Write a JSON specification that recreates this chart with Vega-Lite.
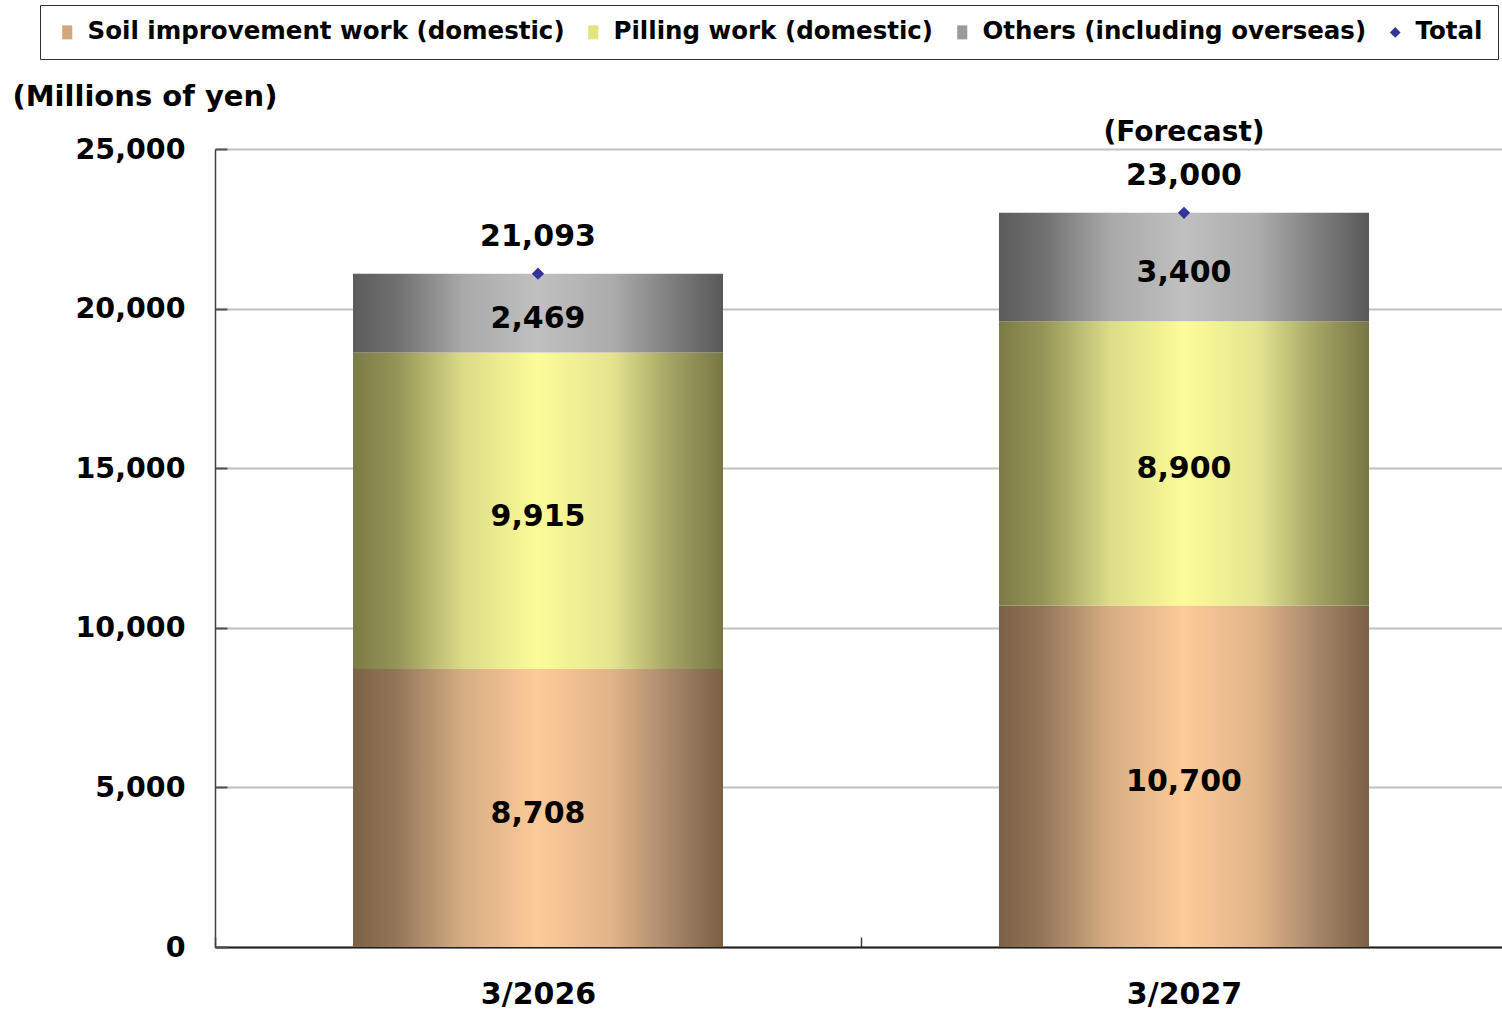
{
  "$schema": "https://vega.github.io/schema/vega-lite/v6.json",
  "autosize": {"type": "none"},
  "padding": {"left": 215, "top": 149, "right": 0, "bottom": 63},
  "width": 1287,
  "height": 798,
  "background": "white",
  "config": {
    "view": {"stroke": null},
    "font": "DejaVu Sans",
    "text": {"font": "DejaVu Sans", "fontWeight": "bold"}
  },
  "datasets": {
    "parts": [
      {"period": "3/2026", "series": "Soil improvement work (domestic)", "order": 1, "value": 8708},
      {"period": "3/2026", "series": "Pilling work (domestic)", "order": 2, "value": 9915},
      {"period": "3/2026", "series": "Others (including overseas)", "order": 3, "value": 2469},
      {"period": "3/2027", "series": "Soil improvement work (domestic)", "order": 1, "value": 10700},
      {"period": "3/2027", "series": "Pilling work (domestic)", "order": 2, "value": 8900},
      {"period": "3/2027", "series": "Others (including overseas)", "order": 3, "value": 3400}
    ],
    "totals": [
      {"period": "3/2026", "total": 21093, "note": ""},
      {"period": "3/2027", "total": 23000, "note": "(Forecast)"}
    ],
    "legendItems": [
      {"series": "Soil improvement work (domestic)"},
      {"series": "Pilling work (domestic)"},
      {"series": "Others (including overseas)"},
      {"series": "Total"}
    ]
  },
  "encoding": {
    "x": {
      "field": "period",
      "type": "nominal",
      "sort": ["3/2026", "3/2027"],
      "scale": {"paddingInner": 0, "paddingOuter": 0, "range": [0, 1292]},
      "axis": {
        "title": null,
        "labelAngle": 0,
        "labelFont": "DejaVu Sans",
        "labelFontWeight": "bold",
        "labelFontSize": 30,
        "labelColor": "black",
        "labelPadding": 42,
        "tickBand": "extent",
        "tickSize": -10,
        "tickColor": "#404040",
        "tickWidth": 1.5,
        "domainColor": "#202020",
        "domainWidth": 2,
        "grid": false
      }
    }
  },
  "layer": [
    {
      "data": {"name": "parts"},
      "transform": [
        {"stack": "value", "groupby": ["period"], "sort": [{"field": "order", "order": "ascending"}], "as": ["y0", "y1"]},
        {"calculate": "(datum.y0 + datum.y1) / 2", "as": "mid"}
      ],
      "layer": [
        {
          "transform": [{"filter": "datum.order == 1"}],
          "mark": {
            "type": "bar",
            "width": 370,
            "color": {
              "gradient": "linear", "x1": 0, "y1": 0, "x2": 1, "y2": 0,
              "stops": [
                {"offset": 0, "color": "#7B6146"},
                {"offset": 0.12, "color": "#94775A"},
                {"offset": 0.3, "color": "#D6AE84"},
                {"offset": 0.5, "color": "#FDCA98"},
                {"offset": 0.7, "color": "#E0B488"},
                {"offset": 0.86, "color": "#A6866A"},
                {"offset": 1, "color": "#7A6045"}
              ]
            }
          },
          "encoding": {
            "y": {
              "field": "y0", "type": "quantitative",
              "scale": {"domain": [0, 25000], "nice": false},
              "axis": {
                "title": "(Millions of yen)",
                "titleAngle": 0,
                "titleAlign": "left",
                "titleBaseline": "middle",
                "titleX": -203,
                "titleY": -53,
                "titleFont": "DejaVu Sans",
                "titleFontWeight": "bold",
                "titleFontSize": 29,
                "titleColor": "black",
                "values": [0, 5000, 10000, 15000, 20000, 25000],
                "format": ",d",
                "labelFont": "DejaVu Sans",
                "labelFontWeight": "bold",
                "labelFontSize": 28.5,
                "labelColor": "black",
                "labelPadding": 42,
                "labelBaseline": "middle",
                "tickSize": -12,
                "tickColor": "#505050",
                "tickWidth": 2,
                "domainColor": "#404040",
                "domainWidth": 1.5,
                "grid": true,
                "gridColor": "#C0C0C0",
                "gridWidth": 2
              }
            },
            "y2": {"field": "y1"}
          }
        },
        {
          "transform": [{"filter": "datum.order == 2"}],
          "mark": {
            "type": "bar",
            "width": 370,
            "color": {
              "gradient": "linear", "x1": 0, "y1": 0, "x2": 1, "y2": 0,
              "stops": [
                {"offset": 0, "color": "#7B7B46"},
                {"offset": 0.12, "color": "#959558"},
                {"offset": 0.3, "color": "#DCDC89"},
                {"offset": 0.5, "color": "#FCFC98"},
                {"offset": 0.7, "color": "#E4E490"},
                {"offset": 0.86, "color": "#A3A363"},
                {"offset": 1, "color": "#777744"}
              ]
            }
          },
          "encoding": {"y": {"field": "y0", "type": "quantitative"}, "y2": {"field": "y1"}}
        },
        {
          "transform": [{"filter": "datum.order == 3"}],
          "mark": {
            "type": "bar",
            "width": 370,
            "color": {
              "gradient": "linear", "x1": 0, "y1": 0, "x2": 1, "y2": 0,
              "stops": [
                {"offset": 0, "color": "#5C5C5C"},
                {"offset": 0.12, "color": "#707070"},
                {"offset": 0.3, "color": "#A9A9A9"},
                {"offset": 0.5, "color": "#C0C0C0"},
                {"offset": 0.7, "color": "#ACACAC"},
                {"offset": 0.86, "color": "#7E7E7E"},
                {"offset": 1, "color": "#595959"}
              ]
            }
          },
          "encoding": {"y": {"field": "y0", "type": "quantitative"}, "y2": {"field": "y1"}}
        },
        {
          "mark": {"type": "text", "fontSize": 30, "fontWeight": "bold", "color": "black", "baseline": "middle", "dy": 6},
          "encoding": {
            "y": {"field": "mid", "type": "quantitative"},
            "text": {"field": "value", "type": "quantitative", "format": ",d"}
          }
        }
      ]
    },
    {
      "data": {"name": "totals"},
      "layer": [
        {
          "mark": {"type": "point", "shape": "diamond", "filled": true, "size": 150, "color": "#333399", "opacity": 1},
          "encoding": {"y": {"field": "total", "type": "quantitative"}}
        },
        {
          "mark": {"type": "text", "fontSize": 30, "fontWeight": "bold", "color": "black", "baseline": "middle", "dy": -37},
          "encoding": {
            "y": {"field": "total", "type": "quantitative"},
            "text": {"field": "total", "type": "quantitative", "format": ",d"}
          }
        },
        {
          "mark": {"type": "text", "fontSize": 28, "fontWeight": "bold", "color": "black", "baseline": "middle", "dy": -80},
          "encoding": {
            "y": {"field": "total", "type": "quantitative"},
            "text": {"field": "note", "type": "nominal"}
          }
        }
      ]
    },
    {
      "data": {"name": "legendItems"},
      "mark": {"type": "point", "filled": true, "opacity": 0, "size": 196},
      "encoding": {
        "x": {"value": 0},
        "y": {"value": 0},
        "color": {
          "field": "series", "type": "nominal",
          "scale": {
            "domain": ["Soil improvement work (domestic)", "Pilling work (domestic)", "Others (including overseas)", "Total"],
            "range": ["#D2A77C", "#E4E47E", "#9A9A9A", "#333399"]
          },
          "legend": {
            "title": null,
            "orient": "none",
            "legendX": -175,
            "legendY": -144,
            "direction": "horizontal",
            "columns": 4,
            "columnPadding": 16,
            "padding": 15,
            "strokeColor": "#303030",
            "fillColor": "white",
            "labelFont": "DejaVu Sans",
            "labelFontWeight": "bold",
            "labelFontSize": 24.5,
            "labelColor": "black",
            "labelLimit": 0,
            "labelOffset": 8,
            "symbolOpacity": 1,
            "symbolSize": 196,
            "symbolStrokeWidth": 0
          }
        },
        "shape": {
          "field": "series", "type": "nominal",
          "scale": {
            "domain": ["Soil improvement work (domestic)", "Pilling work (domestic)", "Others (including overseas)", "Total"],
            "range": ["M-0.72,-1H0.72V1H-0.72Z", "M-0.72,-1H0.72V1H-0.72Z", "M-0.72,-1H0.72V1H-0.72Z", "M0,-0.76L0.76,0L0,0.76L-0.76,0Z"]
          },
          "legend": {
            "title": null,
            "orient": "none",
            "legendX": -175,
            "legendY": -144,
            "direction": "horizontal",
            "columns": 4,
            "columnPadding": 16,
            "padding": 15,
            "strokeColor": "#303030",
            "fillColor": "white",
            "labelFont": "DejaVu Sans",
            "labelFontWeight": "bold",
            "labelFontSize": 24.5,
            "labelColor": "black",
            "labelLimit": 0,
            "labelOffset": 8,
            "symbolOpacity": 1,
            "symbolSize": 196,
            "symbolStrokeWidth": 0
          }
        }
      }
    }
  ]
}
